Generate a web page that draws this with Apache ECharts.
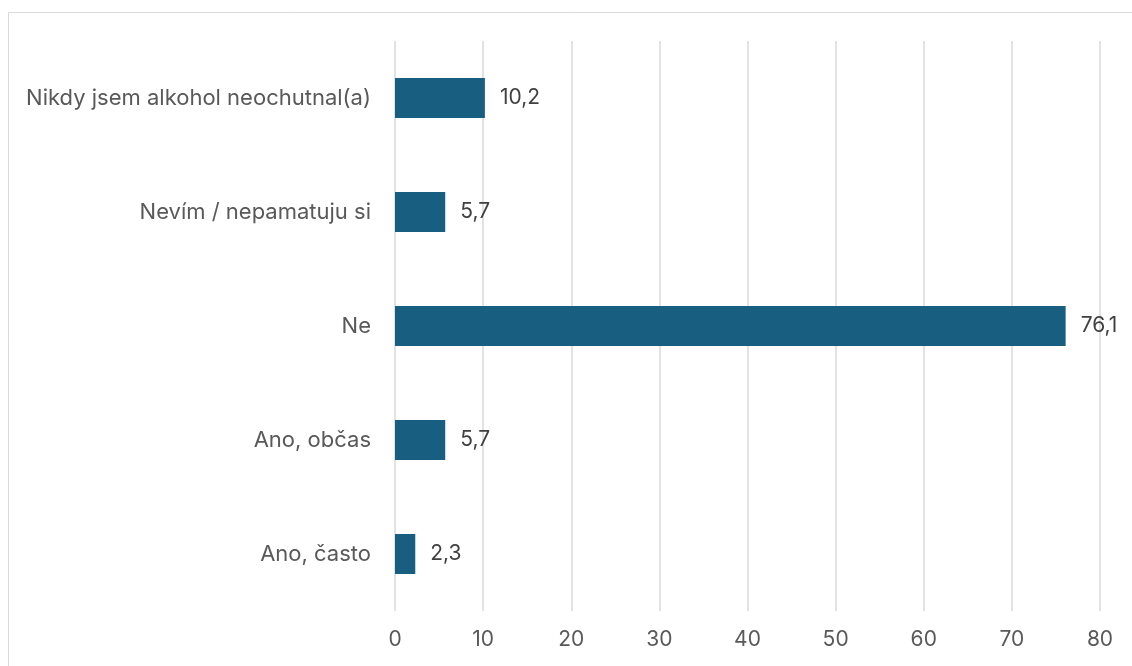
<!DOCTYPE html>
<html><head><meta charset="utf-8">
<script src="https://cdn.jsdelivr.net/npm/echarts@6/dist/echarts.min.js"></script>
<style>html,body{margin:0;padding:0;background:#fff}#c{width:1132px;height:666px}</style>
</head><body><div id="c"></div>
<script>
const categories = ['Ano, často', 'Ano, občas', 'Ne', 'Nevím / nepamatuju si', 'Nikdy jsem alkohol neochutnal(a)'];
const values = [2.3, 5.7, 76.1, 5.7, 10.2];
const font = 'Inter';
const chart = echarts.init(document.getElementById('c'), null, {renderer: 'canvas'});
chart.setOption({
  animation: false,
  graphic: [{type: 'rect', shape: {x: 8.5, y: 12.5, width: 1300, height: 1000}, style: {fill: 'none', stroke: '#d9d9d9', lineWidth: 1}}],
  grid: {left: 395, right: 32, top: 41, bottom: 55},
  xAxis: {
    type: 'value', min: 0, max: 80, interval: 10,
    axisLine: {show: false}, axisTick: {show: false},
    splitLine: {lineStyle: {color: '#d9d9d9', width: 1.5}},
    axisLabel: {color: '#595959', fontSize: 21, fontFamily: font, margin: 18}
  },
  yAxis: {
    type: 'category', data: categories,
    axisLine: {show: false}, axisTick: {show: false},
    axisLabel: {color: '#595959', fontSize: 22, fontFamily: font, margin: 24}
  },
  series: [{
    type: 'bar', data: values, barWidth: 40,
    itemStyle: {color: '#175e81'},
    label: {show: true, position: 'right', distance: 15, color: '#404040', fontSize: 21, fontFamily: font,
      formatter: p => String(p.value).replace('.', ',')}
  }]
});
</script></body></html>
